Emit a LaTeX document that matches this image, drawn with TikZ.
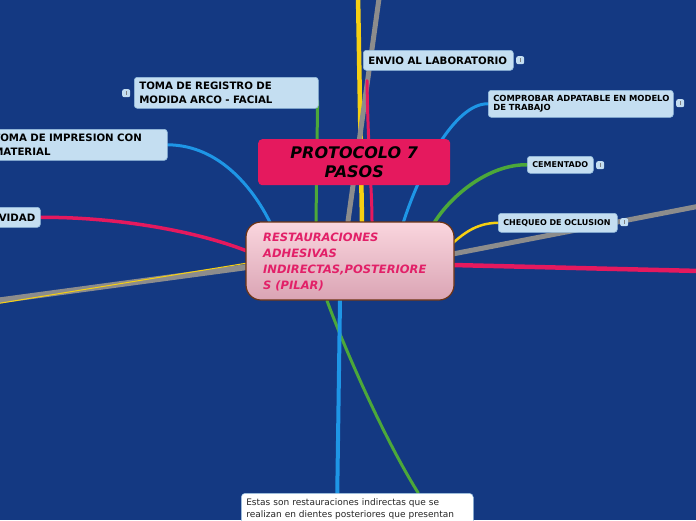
\documentclass[tikz,border=0pt]{standalone}
\usepackage{fontspec}
\setmainfont{DejaVu Sans}
\usetikzlibrary{calc}
\pgfdeclarelayer{bglayer}
\pgfdeclarelayer{connlayer}
\pgfsetlayers{bglayer,connlayer,main}
\definecolor{bg}{RGB}{20,57,130}
\definecolor{crim}{RGB}{229,25,94}
\definecolor{lblue}{RGB}{196,222,241}
\definecolor{lbord}{RGB}{150,190,222}
\definecolor{cyel}{RGB}{246,208,18}
\definecolor{cgray}{RGB}{140,140,140}
\definecolor{cgreen}{RGB}{76,168,58}
\definecolor{cblue}{RGB}{30,150,230}
\definecolor{rtext}{RGB}{226,32,104}
\definecolor{rbord}{RGB}{110,52,20}
\tikzset{
  topic/.style={draw=lbord, line width=0.6pt, fill=lblue, rounded corners=3pt, anchor=north west,
    inner xsep=5pt, inner ysep=0pt, align=left, font=\bfseries\fontsize{10.2}{13.5}\selectfont, text=black,
    execute at begin node={\hyphenpenalty=10000\exhyphenpenalty=10000\hbadness=10000\hfuzz=20pt}},
  small/.style={topic, font=\bfseries\fontsize{8}{9}\selectfont},
  conn/.style={line cap=round}
}
\begin{document}
\begin{tikzpicture}[x=1pt,y=-1pt]
\begin{pgfonlayer}{bglayer}
\fill[bg] (0,0) rectangle (696,520);
\end{pgfonlayer}
\useasboundingbox (0,0) rectangle (696,520);
\clip (0,0) rectangle (696,520);

% central node
\node[draw=rbord, line width=1.2pt, rounded corners=15pt, top color={rgb,255:red,250;green,214;blue,222}, bottom color={rgb,255:red,218;green,164;blue,180},
  minimum width=208pt, minimum height=78pt, anchor=center, inner sep=0pt] (root) at (350,261) {};
\node[anchor=north west, inner sep=0pt, align=left, font=\bfseries\itshape\fontsize{11.5}{16}\selectfont, text=rtext] (roottext) at (263,233)
  {RESTAURACIONES\\ADHESIVAS\\INDIRECTAS,POSTERIORE\\S (PILAR)};

\node[fill=crim, rounded corners=4pt, minimum width=192pt, minimum height=46pt, anchor=north west, inner sep=0pt, align=center,
  font=\bfseries\itshape\fontsize{16}{19}\selectfont, text=black] (proto) at (258,139) {PROTOCOLO 7\\PASOS};

\node[topic, minimum height=20pt, text width=140pt] (envio) at (363,50) {ENVIO AL LABORATORIO};
\node[topic, minimum height=31pt, text width=174pt] (registro) at (134,77) {TOMA DE REGISTRO DE\\MODIDA ARCO - FACIAL};
\node[topic, minimum height=31pt, text width=169pt] (impresion) at (-12,129) {TOMA DE IMPRESION CON\\MATERIAL};
\node[topic, minimum height=20pt, text width=70pt, align=right] (vidad) at (-40,207) {VIDAD};
\node[small, font=\bfseries\fontsize{8.4}{9}\selectfont, minimum height=27pt, text width=175pt] (comprobar) at (488,90) {\mbox{COMPROBAR ADPATABLE EN MODELO}\\DE TRABAJO};
\node[small, minimum height=17pt, text width=56pt] (cementado) at (527,156) {CEMENTADO};
\node[small, minimum height=19pt, text width=109pt] (chequeo) at (498,213) {CHEQUEO DE OCLUSION};
\node[draw=lbord, line width=0.5pt, fill=white, rounded corners=4pt, anchor=north west,
  text width=222pt, inner xsep=5pt, inner ysep=5pt, align=left, font=\fontsize{9}{12}\selectfont, text=black!85] (note) at (241,493)
  {Estas son restauraciones indirectas que se\\realizan en dientes posteriores que presentan\\ \mbox{}};

% badges
\foreach \bx/\by [count=\i] in {516/56, 122/89, 676/99, 596/161, 620/218}{
  \node[fill=lblue, rounded corners=2pt, minimum width=8pt, minimum height=8pt, inner sep=0pt, anchor=north west] (badge\i) at (\bx,\by) {};
  \draw[gray, line width=0.8pt] ($(badge\i.center)+(0,-2)$) -- ($(badge\i.center)+(0,1.5)$);
}

% connectors
\coordinate (ytop) at (358,-5);
\coordinate (gtop) at (379.5,-5);
\coordinate (gleft) at (-5,301);
\coordinate (yleft) at (-5,304);
\coordinate (gright) at (700,206);
\coordinate (cright) at (700,271);

\begin{pgfonlayer}{connlayer}
\begin{scope}[conn]
\draw[cgreen, line width=3pt] ($(root.south)+(-23,0)$) .. controls (345,350) and (385,440) .. ($(note.north)+(61,0)$);
\draw[cblue, line width=4pt] ($(root.south)+(-10,0)$) -- ($(note.north)+(-20,0)$);
\draw[cyel, line width=4.5pt] (ytop) -- ($(root.north)+(12,0)$);
\draw[cgray, line width=5pt] (gtop) -- ($(root.north)+(-2,0)$);
\draw[crim, line width=3pt] ($(envio.south west)+(4,10)$) .. controls (368,150) and (372,190) .. ($(root.north)+(22,0)$);
\draw[cgreen, line width=3pt] ($(registro.south east)+(-1,-8)$) -- ($(root.north)+(-34,0)$);
\draw[cblue, line width=3pt] (impresion.east) .. controls (220,145) and (255,190) .. ($(root.north)+(-78,5)$);
\draw[crim, line width=3.5pt] (vidad.east) .. controls (120,217) and (200,232) .. ($(root.west)+(4,-9)$);
\draw[cgray, line width=6pt] (gleft) -- ($(root.west)+(2,6)$);
\draw[cyel, line width=1pt] (yleft) -- ($(root.west)+(2,2)$);
\draw[cblue, line width=3pt] (comprobar.west) .. controls (455,103) and (420,170) .. ($(root.north)+(53,2)$);
\draw[cgreen, line width=3.5pt] (cementado.west) .. controls (490,164) and (450,195) .. ($(root.north)+(82,5)$);
\draw[cyel, line width=2.5pt] (chequeo.west) .. controls (475,223) and (462,235) .. ($(root.east)+(-4,-16)$);
\draw[cgray, line width=5pt] ($(root.east)+(-2,-7)$) -- (gright);
\draw[crim, line width=4.5pt] ($(root.east)+(-2,4)$) -- (cright);
\end{scope}
\end{pgfonlayer}
\end{tikzpicture}
\end{document}
